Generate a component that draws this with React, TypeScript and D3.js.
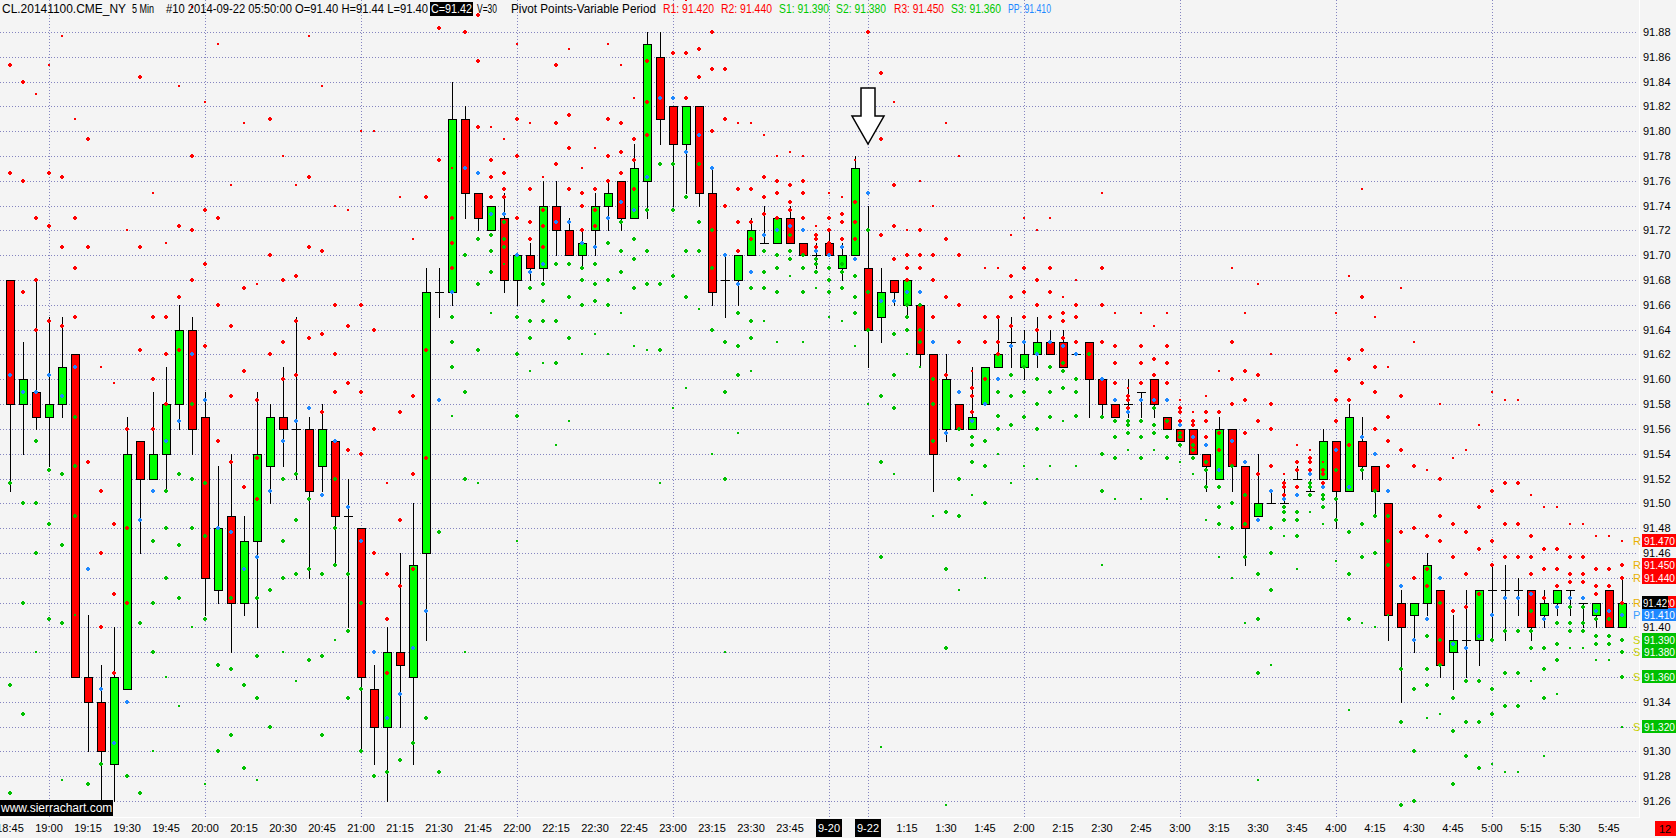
import React from "react";
import * as d3 from "d3";

// ---------- DATA (5-min bars, CL.20141100) ----------
const opens = [
  91.68, 91.58, 91.59, 91.57, 91.58, 91.62, 91.36, 91.34, 91.29, 91.35,
  91.55, 91.52, 91.54, 91.58, 91.64, 91.57, 91.43, 91.49, 91.42, 91.47,
  91.53, 91.57, 91.56, 91.56, 91.53, 91.55, 91.49, 91.48, 91.35, 91.32,
  91.38, 91.36, 91.46, 91.67, 91.67, 91.81, 91.75, 91.72, 91.73, 91.68,
  91.70, 91.69, 91.74, 91.72, 91.70, 91.72, 91.74, 91.76, 91.73, 91.76,
  91.86, 91.82, 91.79, 91.82, 91.75, 91.68, 91.68, 91.70, 91.71, 91.71,
  91.73, 91.71, 91.70, 91.71, 91.69, 91.70, 91.69, 91.65, 91.68, 91.66,
  91.66, 91.62, 91.56, 91.58, 91.56, 91.58, 91.61, 91.63, 91.61, 91.62,
  91.63, 91.63, 91.62, 91.63, 91.60, 91.58, 91.58, 91.59, 91.60, 91.57,
  91.56, 91.56, 91.54, 91.52, 91.56, 91.53, 91.49, 91.50, 91.50, 91.52,
  91.51, 91.52, 91.55, 91.51, 91.55, 91.53, 91.50, 91.42, 91.41, 91.42,
  91.43, 91.38, 91.39, 91.39, 91.43, 91.43, 91.43, 91.43, 91.41, 91.42,
  91.43, 91.42, 91.41, 91.43, 91.40,
];
const highs = [
  91.68, 91.63, 91.68, 91.65, 91.65, 91.62, 91.41, 91.37, 91.40, 91.57,
  91.55, 91.59, 91.61, 91.66, 91.65, 91.59, 91.53, 91.54, 91.49, 91.59,
  91.58, 91.61, 91.65, 91.57, 91.58, 91.55, 91.52, 91.48, 91.37, 91.40,
  91.46, 91.50, 91.69, 91.69, 91.84, 91.82, 91.75, 91.74, 91.75, 91.70,
  91.71, 91.76, 91.76, 91.73, 91.72, 91.75, 91.76, 91.76, 91.79, 91.88,
  91.88, 91.82, 91.82, 91.82, 91.77, 91.70, 91.70, 91.73, 91.74, 91.73,
  91.74, 91.71, 91.71, 91.72, 91.71, 91.78, 91.74, 91.69, 91.68, 91.68,
  91.66, 91.62, 91.62, 91.58, 91.61, 91.61, 91.65, 91.65, 91.64, 91.65,
  91.64, 91.64, 91.62, 91.63, 91.60, 91.58, 91.60, 91.59, 91.60, 91.57,
  91.56, 91.56, 91.54, 91.57, 91.56, 91.53, 91.54, 91.51, 91.52, 91.53,
  91.52, 91.56, 91.55, 91.58, 91.57, 91.53, 91.50, 91.43, 91.42, 91.46,
  91.43, 91.41, 91.43, 91.43, 91.45, 91.45, 91.44, 91.43, 91.43, 91.43,
  91.43, 91.42, 91.42, 91.43, 91.44,
];
const lows = [
  91.51, 91.54, 91.56, 91.53, 91.57, 91.36, 91.30, 91.25, 91.26, 91.35,
  91.46, 91.52, 91.51, 91.56, 91.54, 91.41, 91.42, 91.38, 91.41, 91.40,
  91.50, 91.53, 91.52, 91.44, 91.51, 91.45, 91.40, 91.30, 91.29, 91.26,
  91.32, 91.29, 91.39, 91.65, 91.66, 91.73, 91.72, 91.72, 91.67, 91.66,
  91.68, 91.68, 91.70, 91.70, 91.69, 91.70, 91.72, 91.72, 91.73, 91.73,
  91.79, 91.74, 91.75, 91.74, 91.66, 91.65, 91.66, 91.70, 91.71, 91.71,
  91.71, 91.70, 91.69, 91.70, 91.68, 91.70, 91.61, 91.63, 91.66, 91.65,
  91.61, 91.51, 91.55, 91.56, 91.56, 91.58, 91.61, 91.61, 91.60, 91.61,
  91.62, 91.61, 91.62, 91.57, 91.57, 91.57, 91.57, 91.57, 91.57, 91.56,
  91.55, 91.54, 91.51, 91.52, 91.51, 91.45, 91.49, 91.50, 91.50, 91.52,
  91.51, 91.52, 91.48, 91.51, 91.52, 91.49, 91.39, 91.34, 91.38, 91.41,
  91.36, 91.35, 91.36, 91.37, 91.39, 91.39, 91.41, 91.39, 91.40, 91.41,
  91.41, 91.40, 91.40, 91.40, 91.40,
];
const closes = [
  91.58, 91.60, 91.57, 91.58, 91.61, 91.36, 91.34, 91.30, 91.36, 91.54,
  91.52, 91.54, 91.58, 91.64, 91.56, 91.44, 91.48, 91.42, 91.47, 91.54,
  91.57, 91.56, 91.56, 91.51, 91.56, 91.49, 91.49, 91.36, 91.32, 91.38,
  91.37, 91.45, 91.67, 91.67, 91.81, 91.75, 91.73, 91.74, 91.68, 91.70,
  91.69, 91.74, 91.72, 91.70, 91.71, 91.74, 91.75, 91.73, 91.77, 91.87,
  91.81, 91.79, 91.82, 91.75, 91.67, 91.68, 91.70, 91.72, 91.71, 91.73,
  91.71, 91.70, 91.70, 91.70, 91.70, 91.77, 91.64, 91.67, 91.67, 91.68,
  91.62, 91.54, 91.60, 91.56, 91.57, 91.61, 91.62, 91.63, 91.62, 91.63,
  91.62, 91.61, 91.62, 91.60, 91.58, 91.57, 91.58, 91.59, 91.58, 91.56,
  91.55, 91.54, 91.53, 91.56, 91.53, 91.48, 91.50, 91.50, 91.50, 91.52,
  91.51, 91.55, 91.51, 91.57, 91.53, 91.51, 91.41, 91.40, 91.42, 91.45,
  91.37, 91.39, 91.39, 91.43, 91.43, 91.43, 91.43, 91.40, 91.42, 91.43,
  91.43, 91.42, 91.42, 91.40, 91.42,
];
// the bar just before the first visible one (feeds the first pivot set)
const priorHigh = 91.69;
const priorLow = 91.44;
const priorClose = 91.68;

const timeLabels = [
  "18:45", "19:00", "19:15", "19:30", "19:45", "20:00", "20:15", "20:30", "20:45",
  "21:00", "21:15", "21:30", "21:45", "22:00", "22:15", "22:30", "22:45", "23:00",
  "23:15", "23:30", "23:45", "1:15", "1:30", "1:45", "2:00", "2:15", "2:30", "2:45",
  "3:00", "3:15", "3:30", "3:45", "4:00", "4:15", "4:30", "4:45", "5:00", "5:15",
  "5:30", "5:45",
];
const timeLabelBars = [
  0, 3, 6, 9, 12, 15, 18, 21, 24, 27, 30, 33, 36, 39, 42, 45, 48, 51, 54, 57, 60,
  69, 72, 75, 78, 81, 84, 87, 90, 93, 96, 99, 102, 105, 108, 111, 114, 117, 120, 123,
];
const dateLabels = ["9-20", "9-22"];
const dateLabelBars = [63, 66];
const gridBars = [3, 15, 27, 39, 51, 63, 66, 78, 90, 102, 114];
const priceTicks = d3.range(0, 32).map((k) => +(91.26 + k * 0.02).toFixed(2));
const arrowBar = 66;
const arrowTipValue = 91.79;

// ---------- LAYOUT ----------
const W = 1676;
const H = 838;
const PLOT_R = 1639;
const PLOT_B = 817;
const BG = "#f4f4f4";
const GRID = "#8585c0";
const RED = "#ff0000";
const GREEN_BODY = "#00ff00";
const GREEN_DOT = "#00c000";
const BLUE = "#1e88ff";
const FONT = "'Liberation Sans', Arial, sans-serif";

const x = d3.scaleLinear().domain([0, opens.length - 1]).range([10, 10 + 13 * (opens.length - 1)]);
const y = d3.scaleLinear().domain([91.26, 91.88]).range([801, 32]);

function pivots(h: number, l: number, c: number) {
  const pp = (h + l + c) / 3;
  return {
    r4: h + 4 * (pp - l),
    r3: h + 2 * (pp - l),
    r2: pp + (h - l),
    r1: 2 * pp - l,
    pp,
    s1: 2 * pp - h,
    s2: pp - (h - l),
    s3: l - 2 * (h - pp),
    s4: l - 4 * (h - pp),
  };
}

const levels: { key: string; color: string; small: boolean }[] = [
  { key: "r4", color: RED, small: true },
  { key: "r3", color: RED, small: false },
  { key: "r2", color: RED, small: false },
  { key: "r1", color: RED, small: false },
  { key: "pp", color: BLUE, small: false },
  { key: "s1", color: GREEN_DOT, small: false },
  { key: "s2", color: GREEN_DOT, small: false },
  { key: "s3", color: GREEN_DOT, small: false },
  { key: "s4", color: GREEN_DOT, small: true },
];

export default function App() {
  const n = opens.length;
  const piv = opens.map((_, i) =>
    i === 0
      ? pivots(priorHigh, priorLow, priorClose)
      : pivots(highs[i - 1], lows[i - 1], closes[i - 1])
  );
  const last = piv[n - 1] as any;

  const candles = opens.map((o, i) => {
    const cx = Math.round(x(i));
    const c = closes[i];
    const yH = Math.round(y(highs[i]));
    const yL = Math.round(y(lows[i]));
    const yT = Math.round(y(Math.max(o, c)));
    const yB = Math.round(y(Math.min(o, c)));
    const up = c > o;
    const flat = c === o;
    return (
      <g key={"c" + i}>
        <line x1={cx + 0.5} x2={cx + 0.5} y1={yH} y2={yL + 1} stroke="#000" strokeWidth={1} />
        {flat ? (
          <line x1={cx - 4} x2={cx + 5} y1={yT + 0.5} y2={yT + 0.5} stroke="#000" strokeWidth={1} />
        ) : (
          <rect
            x={cx - 3.5}
            y={yT + 0.5}
            width={8}
            height={Math.max(1, yB - yT)}
            fill={up ? GREEN_BODY : RED}
            stroke="#000"
            strokeWidth={1}
          />
        )}
      </g>
    );
  });

  const dots: JSX.Element[] = [];
  piv.forEach((p: any, i) => {
    const cx = Math.round(x(i));
    levels.forEach((lv) => {
      const cy = Math.round(y(p[lv.key]));
      if (cy < -3 || cy > PLOT_B) return;
      if (lv.small) {
        dots.push(<rect key={`d${i}${lv.key}`} x={cx - 1} y={cy - 1} width={2} height={2} fill={lv.color} />);
      } else {
        dots.push(
          <path
            key={`d${i}${lv.key}`}
            d={`M${cx - 2},${cy - 1}h4v2h-4zM${cx - 1},${cy - 2}h2v4h-2z`}
            fill={lv.color}
          />
        );
      }
    });
  });

  const ax = Math.round(x(arrowBar));
  const at = Math.round(y(arrowTipValue));
  const arrowPts = [
    [ax - 7, at - 56],
    [ax + 7, at - 56],
    [ax + 7, at - 28],
    [ax + 16, at - 28],
    [ax, at],
    [ax - 16, at - 28],
    [ax - 7, at - 28],
  ]
    .map((p) => p.join(","))
    .join(" ");

  const fmt3 = (v: number) => v.toFixed(3);
  const boxes = [
    { v: last.r4, color: RED, letter: "R", lc: "#e8b000" },
    { v: last.r3, color: RED, letter: "R", lc: "#e8b000" },
    { v: last.r2, color: RED, letter: "R", lc: "#e8b000" },
    { v: last.r1, color: RED, letter: "R", lc: "#e8b000" },
    { v: last.pp, color: BLUE, letter: "P", lc: "#3a9cff" },
    { v: last.s1, color: GREEN_DOT, letter: "S", lc: "#c8d000" },
    { v: last.s2, color: GREEN_DOT, letter: "S", lc: "#c8d000" },
    { v: last.s3, color: GREEN_DOT, letter: "S", lc: "#c8d000" },
    { v: last.s4, color: GREEN_DOT, letter: "S", lc: "#c8d000" },
  ];
  const lastClose = closes[n - 1];
  const lastOpen = opens[n - 1];

  const header: { t: string; x0: number; x1: number; c: string; box?: boolean }[] = [
    { t: "CL.20141100.CME_NY", x0: 2, x1: 126, c: "#000" },
    { t: "5 Min", x0: 132, x1: 154, c: "#000" },
    {
      t: `#10 2014-09-22 05:50:00 O=${lastOpen.toFixed(2)} H=${highs[n - 1].toFixed(2)} L=${lows[n - 1].toFixed(2)}`,
      x0: 166,
      x1: 428,
      c: "#000",
    },
    { t: `C=${lastClose.toFixed(2)}`, x0: 431, x1: 472, c: "#fff", box: true },
    { t: "V=30", x0: 477, x1: 497, c: "#000" },
    { t: "Pivot Points-Variable Period", x0: 511, x1: 656, c: "#000" },
    { t: `R1: ${fmt3(last.r1)}`, x0: 663, x1: 714, c: RED },
    { t: `R2: ${fmt3(last.r2)}`, x0: 721, x1: 772, c: RED },
    { t: `S1: ${fmt3(last.s1)}`, x0: 779, x1: 829, c: "#00c800" },
    { t: `S2: ${fmt3(last.s2)}`, x0: 836, x1: 886, c: "#00c800" },
    { t: `R3: ${fmt3(last.r3)}`, x0: 894, x1: 944, c: RED },
    { t: `S3: ${fmt3(last.s3)}`, x0: 951, x1: 1001, c: "#00c800" },
    { t: `PP: ${fmt3(last.pp)}`, x0: 1008, x1: 1051, c: BLUE },
  ];

  return (
    <div style={{ position: "fixed", left: 0, top: 0, width: W, height: H }}>
      <svg width={W} height={H} style={{ display: "block" }} fontFamily={FONT}>
        <defs>
          <clipPath id="plotClip">
            <rect x={0} y={0} width={PLOT_R} height={PLOT_B} />
          </clipPath>
        </defs>
        <rect x={0} y={0} width={W} height={H} fill={BG} />
        {/* grid */}
        <g stroke={GRID} strokeWidth={1} strokeDasharray="1,2" shapeRendering="crispEdges">
          {priceTicks.map((v) => (
            <line key={"h" + v} x1={0} x2={PLOT_R - 1} y1={Math.round(y(v)) + 0.5} y2={Math.round(y(v)) + 0.5} />
          ))}
          {gridBars.map((b) => (
            <line key={"v" + b} x1={Math.round(x(b)) + 0.5} x2={Math.round(x(b)) + 0.5} y1={0} y2={PLOT_B} />
          ))}
        </g>
        <g clipPath="url(#plotClip)">
          <g shapeRendering="crispEdges">{candles}</g>
          <g shapeRendering="crispEdges">{dots}</g>
          <polygon points={arrowPts} fill="#fff" stroke="#000" strokeWidth={1.5} />
        </g>
        {/* frame */}
        <line x1={PLOT_R + 0.5} x2={PLOT_R + 0.5} y1={0} y2={PLOT_B + 1} stroke="#fff" strokeWidth={1} />
        <line x1={0} x2={PLOT_R + 1} y1={PLOT_B + 0.5} y2={PLOT_B + 0.5} stroke="#fff" strokeWidth={1} />
        {/* header */}
        <g fontSize={12}>
          {header.map((h, i) => (
            <g key={"hd" + i}>
              {h.box && <rect x={h.x0 - 1} y={2} width={h.x1 - h.x0 + 2} height={14} fill="#000" />}
              <text x={h.x0} y={13} fill={h.c} textLength={h.x1 - h.x0} lengthAdjust="spacingAndGlyphs">
                {h.t}
              </text>
            </g>
          ))}
        </g>
        {/* right price axis */}
        <g fontSize={11} fill="#000">
          {priceTicks.map((v) => (
            <text key={"pt" + v} x={1643} y={Math.round(y(v))} dominantBaseline="central">
              {v.toFixed(2)}
            </text>
          ))}
        </g>
        <g fontSize={11}>
          {boxes.map((b, i) => {
            const cy = Math.round(y(b.v));
            return (
              <g key={"bx" + i}>
                <text x={1633} y={cy} dominantBaseline="central" fill={b.lc} fontSize={11}>
                  {b.letter}
                </text>
                <rect x={1642} y={cy - 7} width={W - 1642} height={13} fill={b.color} />
                <text
                  x={1644}
                  y={cy}
                  dominantBaseline="central"
                  fill="#fff"
                  textLength={31}
                  lengthAdjust="spacingAndGlyphs"
                >
                  {fmt3(b.v)}
                </text>
              </g>
            );
          })}
          {(() => {
            const cy = Math.round(y(lastClose));
            return (
              <g>
                <rect x={1642} y={cy - 7} width={26} height={13} fill="#000" />
                <text
                  x={1643}
                  y={cy}
                  dominantBaseline="central"
                  fill="#fff"
                  textLength={24}
                  lengthAdjust="spacingAndGlyphs"
                >
                  {lastClose.toFixed(2)}
                </text>
              </g>
            );
          })()}
        </g>
        {/* time axis */}
        <g fontSize={11} fill="#000" textAnchor="middle">
          {timeLabels.map((t, i) => (
            <text key={"tl" + i} x={x(timeLabelBars[i])} y={828} dominantBaseline="central">
              {t}
            </text>
          ))}
          {dateLabels.map((t, i) => (
            <g key={"dl" + i}>
              <rect x={x(dateLabelBars[i]) - 13} y={819} width={26} height={18} fill="#000" />
              <text x={x(dateLabelBars[i])} y={828} dominantBaseline="central" fill="#fff">
                {t}
              </text>
            </g>
          ))}
        </g>
        <rect x={1655} y={821} width={21} height={15} fill={RED} />
        <text x={1665} y={828.5} fontSize={11} textAnchor="middle" dominantBaseline="central" fill="#000">
          12
        </text>
        <rect x={0} y={800} width={113} height={16} fill="#000" />
        <text x={1} y={812} fontSize={12} fill="#fff">
          www.sierrachart.com
        </text>
      </svg>
    </div>
  );
}
